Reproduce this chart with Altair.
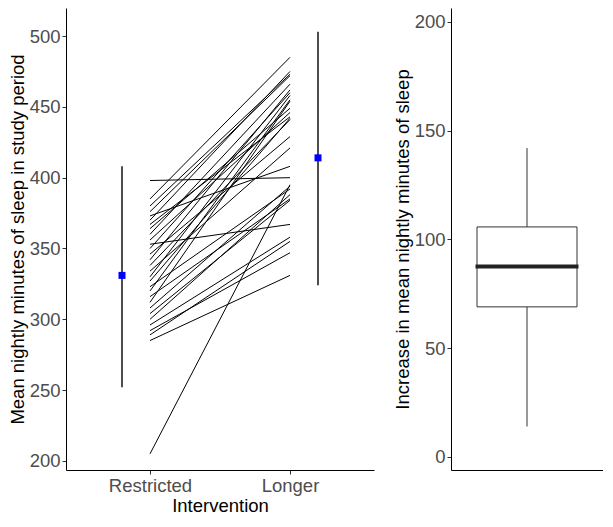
import altair as alt
import pandas as pd

# ---- data ----
conditions = ["Restricted", "Longer"]
restricted = [398, 205, 353, 285, 385, 380, 376, 373, 370, 367, 364, 360, 356, 350, 346,
              342, 338, 334, 330, 327, 323, 320, 316, 312, 308, 304, 300, 296, 292, 289]
longer = [400, 395, 367, 331, 485, 473, 472, 408, 475, 443, 449, 466, 446, 460, 429,
          462, 441, 421, 458, 442, 392, 455, 385, 454, 394, 384, 388, 358, 347, 355]
summary_mean = [331, 414]
summary_low = [252, 324]
summary_high = [408, 503]

# ---- tables ----
rows = []
for i, (r, l) in enumerate(zip(restricted, longer)):
    rows.append({"id": i, "pos": 1, "minutes": r})
    rows.append({"id": i, "pos": 2, "minutes": l})
df_lines = pd.DataFrame(rows)

offset = 0.2
df_sum = pd.DataFrame({
    "pos": [1 - offset, 2 + offset],
    "mean": summary_mean,
    "low": summary_low,
    "high": summary_high,
})

df_box = pd.DataFrame({
    "grp": ["a"] * len(restricted),
    "inc": [l - r for r, l in zip(restricted, longer)],
})

FONT = "Liberation Sans"
H = 462

xscale = alt.Scale(domain=[0.4, 2.6], nice=False, zero=False)
yscale = alt.Scale(domain=[193.6, 519.8], nice=False, zero=False)
label_expr = f"datum.value == 1 ? '{conditions[0]}' : '{conditions[1]}'"

xaxis = alt.Axis(values=[1, 2], labelExpr=label_expr, title="Intervention")
yaxis = alt.Axis(values=[200, 250, 300, 350, 400, 450, 500],
                 title="Mean nightly minutes of sleep in study period")

lines = alt.Chart(df_lines).mark_line(color="black", strokeWidth=1).encode(
    x=alt.X("pos:Q", scale=xscale, axis=xaxis),
    y=alt.Y("minutes:Q", scale=yscale, axis=yaxis),
    detail="id:N",
)
rules = alt.Chart(df_sum).mark_rule(color="black", strokeWidth=1.4).encode(
    x=alt.X("pos:Q", scale=xscale),
    y=alt.Y("low:Q", scale=yscale),
    y2="high:Q",
)
points = alt.Chart(df_sum).mark_square(color="#0000FF", size=49, opacity=1).encode(
    x=alt.X("pos:Q", scale=xscale),
    y=alt.Y("mean:Q", scale=yscale),
)
left = alt.layer(lines, rules, points).properties(width=308, height=H)

right = alt.Chart(df_box).mark_boxplot(
    extent=1.5,
    size=100,
    outliers=False,
    ticks=False,
    box={"fill": "white", "stroke": "#333333", "strokeWidth": 1, "opacity": 1},
    median={"stroke": "#222222", "strokeWidth": 3, "color": "#222222", "opacity": 1},
    rule={"stroke": "#333333", "strokeWidth": 1, "opacity": 1},
).encode(
    x=alt.X("grp:N", axis=alt.Axis(title=None, labels=False, ticks=False)),
    y=alt.Y("inc:Q", scale=alt.Scale(domain=[-6, 206.4], nice=False, zero=False),
            axis=alt.Axis(values=[0, 50, 100, 150, 200],
                          title="Increase in mean nightly minutes of sleep")),
).properties(width=152, height=H)

chart = alt.hconcat(left, right, spacing=19).properties(padding=0).configure_view(
    stroke=None
).configure_axis(
    grid=False,
    domainColor="black",
    domainWidth=1,
    tickColor="#333333",
    tickSize=4,
    labelColor="#4D4D4D",
    labelFont=FONT,
    labelFontSize=18.5,
    labelPadding=2,
    titleFont=FONT,
    titleFontSize=18.5,
    titleFontWeight="normal",
    titleColor="black",
    titlePadding=2,
)

chart.save("out.html", embed_options={"renderer": "svg", "actions": False})
